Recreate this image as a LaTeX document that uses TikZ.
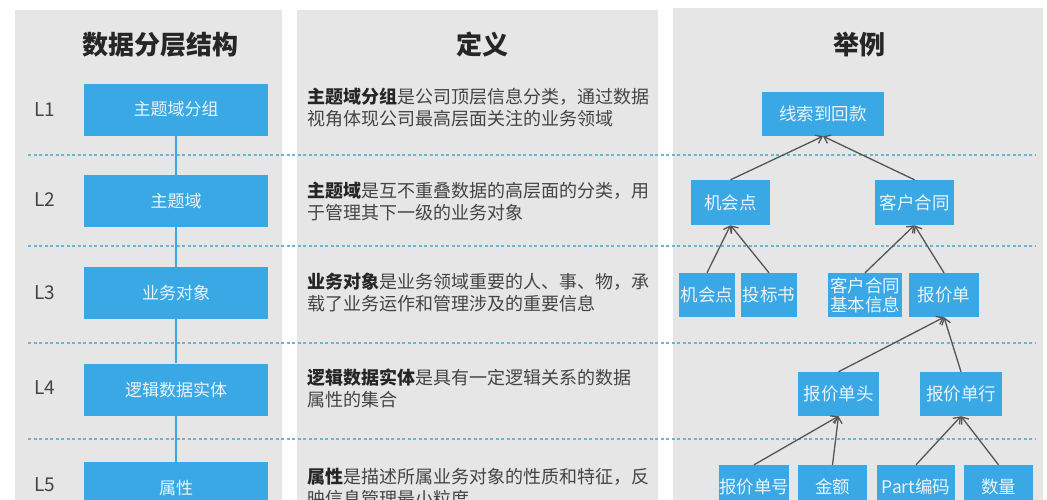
\documentclass[tikz,border=0pt]{standalone}
\usepackage{fontspec}
\setmainfont{Noto Sans CJK SC}
\usetikzlibrary{arrows.meta}
\definecolor{boxblue}{RGB}{59,168,230}
\definecolor{panelgray}{RGB}{230,230,230}
\definecolor{dashblue}{RGB}{110,178,212}
\definecolor{txtgray}{RGB}{68,68,68}
\definecolor{linegray}{RGB}{85,85,85}
\tikzset{
  panel/.style={fill=panelgray, draw=none},
  layerbox/.style={fill=boxblue, text=white!88!boxblue, minimum width=184pt, minimum height=52pt, inner sep=0pt, font=\fontsize{17}{20}\selectfont},
  treebox/.style={fill=boxblue, text=white!88!boxblue, minimum height=44pt, inner sep=0pt, align=center, font=\fontsize{17.5}{19}\selectfont},
  deftext/.style={anchor=west, align=left, text=txtgray, inner sep=0pt, font=\fontsize{18}{22}\selectfont},
  coltitle/.style={text=black!85, inner sep=0pt, font=\fontsize{26}{30}\selectfont\bfseries},
  level/.style={text=txtgray, inner sep=0pt, font=\fontsize{19}{22}\selectfont},
  sepline/.style={draw=dashblue, line width=1.4pt, dash pattern=on 3pt off 2.5pt},
  stem/.style={draw=boxblue, line width=2.5pt},
  link/.style={draw=linegray, line width=1.3pt, -{Straight Barb[length=6pt,width=9pt]}}
}
\begin{document}
\begin{tikzpicture}[x=1pt,y=-1pt]
	\useasboundingbox (0,0) rectangle (1047,499);
	\clip (0,0) rectangle (1047,499);
	\fill[white] (0,0) rectangle (1047,499);
	% panels
	\path[panel] (15,10) rectangle (282,520);
	\path[panel] (297,10) rectangle (658,520);
	\path[panel] (673,8) rectangle (1043,520);
	% titles
	\node (t1) [coltitle] at (160,45) {数据分层结构};
	\node (t2) [coltitle] at (482,45) {定义};
	\node (t3) [coltitle] at (859,45) {举例};
	% layer separators
	\foreach \y in {155,246,343,439}
		\draw[sepline] (28,\y) -- (1035,\y);
	% levels
	\node (l1) [level] at (45,110) {L1};
	\node (l2) [level] at (45,200) {L2};
	\node (l3) [level] at (45,293) {L3};
	\node (l4) [level] at (45,388) {L4};
	\node (l5) [level] at (45,485) {L5};
	% layer boxes
	\node (g1) [layerbox] at (176,109.5) {主题域分组};
	\node (g2) [layerbox] at (176,201) {主题域};
	\node (g3) [layerbox] at (176,293) {业务对象};
	\node (g4) [layerbox] at (176,389.5) {逻辑数据实体};
	\node (g5) [layerbox] at (176,488) {属性};
	\draw[stem] (g1) -- (g2);
	\draw[stem] (g2) -- (g3);
	\draw[stem] (g3) -- (g4);
	\draw[stem] (g4) -- (g5);
	% definitions
	\node (d1) [deftext] at (307,107.5) {\textbf{\color{black!85}主题域分组}是公司顶层信息分类，通过数据\\视角体现公司最高层面关注的业务领域};
	\node (d2) [deftext] at (307,201) {\textbf{\color{black!85}主题域}是互不重叠数据的高层面的分类，用\\于管理其下一级的业务对象};
	\node (d3) [deftext] at (307,292.5) {\textbf{\color{black!85}业务对象}是业务领域重要的人、事、物，承\\载了业务运作和管理涉及的重要信息};
	\node (d4) [deftext] at (307,388.5) {\textbf{\color{black!85}逻辑数据实体}是具有一定逻辑关系的数据\\属性的集合};
	\node (d5) [deftext] at (307,488) {\textbf{\color{black!85}属性}是描述所属业务对象的性质和特征，反\\映信息管理最小粒度};
	% example tree
	\node (lead) [treebox, minimum width=122pt] at (823,114) {线索到回款};
	\node (opp) [treebox, minimum width=79pt, minimum height=45pt] at (730.5,202.5) {机会点};
	\node (cont) [treebox, minimum width=79pt, minimum height=45pt] at (914.5,202.5) {客户合同};
	\node (opp2) [treebox, minimum width=56pt] at (707,295) {机会点};
	\node (bid) [treebox, minimum width=56pt] at (769,295) {投标书};
	\node (info) [treebox, minimum width=74pt] at (865,295) {客户合同\\基本信息};
	\node (quote) [treebox, minimum width=70pt] at (944,295) {报价单};
	\node (head) [treebox, minimum width=81pt] at (838.5,394) {报价单头};
	\node (line) [treebox, minimum width=82pt] at (961,394) {报价单行};
	\node (qno) [treebox, minimum width=70pt] at (754,487) {报价单号};
	\node (amt) [treebox, minimum width=69pt] at (832.5,487) {金额};
	\node (part) [treebox, minimum width=78pt] at (916,487) {Part编码};
	\node (qty) [treebox, minimum width=69pt] at (998.5,487) {数量};
	\draw[link] (opp.north) -- (lead.south);
	\draw[link] (cont.north) -- (lead.south);
	\draw[link] (opp2.north) -- (opp.south);
	\draw[link] (bid.north) -- (opp.south);
	\draw[link] (info.north) -- (cont.south);
	\draw[link] (quote.north) -- (cont.south);
	\draw[link] (head.north) -- (quote.south);
	\draw[link] (line.north) -- (quote.south);
	\draw[link] (qno.north) -- (head.south);
	\draw[link] (amt.north) -- (head.south);
	\draw[link] (part.north) -- (line.south);
	\draw[link] (qty.north) -- (line.south);
\end{tikzpicture}
\end{document}
